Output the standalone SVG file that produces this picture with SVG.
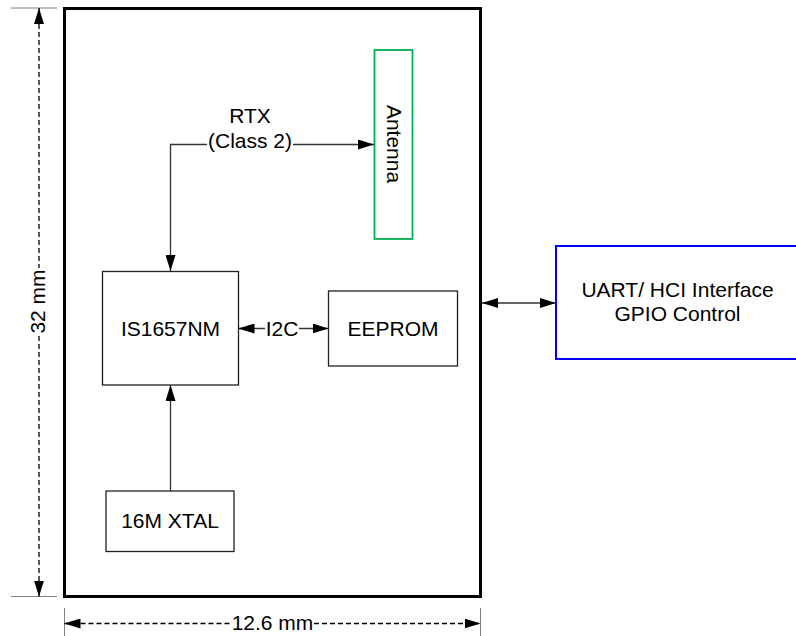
<svg xmlns="http://www.w3.org/2000/svg" width="796" height="636" viewBox="0 0 796 636">
  <style>
    .t { font-family: "Liberation Sans", Arial, sans-serif; font-size: 21px; fill: #000; }
    .box { fill: #fff; stroke: #222; stroke-width: 1.3; }
    .conn { fill: none; stroke: #333; stroke-width: 1.3; }
    .dim { fill: none; stroke: #000; stroke-width: 1.3; stroke-dasharray: 5 3; }
    .tick { fill: none; stroke: #808080; stroke-width: 1; }
  </style>
  <defs>
    <marker id="ah" viewBox="0 0 16 10" refX="16" refY="5" markerWidth="16" markerHeight="10" markerUnits="userSpaceOnUse" orient="auto-start-reverse">
      <path d="M0,0 L16,5 L0,10 z" fill="#000"/>
    </marker>
  </defs>

  <rect width="796" height="636" fill="#fff"/>

  <g id="module">
    <rect x="64.5" y="8.5" width="416" height="588" fill="#fff" stroke="#000" stroke-width="3"/>
  </g>

  <g id="uart">
    <rect x="556" y="246" width="260" height="113" fill="none" stroke="#0000ff" stroke-width="2"/>
    <text class="t" x="677.5" y="297" text-anchor="middle">UART/ HCI Interface</text>
    <text class="t" x="677.5" y="321" text-anchor="middle">GPIO Control</text>
  </g>

  <g id="antenna">
    <rect x="374.5" y="50" width="38" height="189" fill="#fff" stroke="#00b050" stroke-width="1.8"/>
    <text class="t" transform="translate(387,144) rotate(90)" text-anchor="middle">Antenna</text>
  </g>

  <g id="is1657nm">
    <rect class="box" x="102.5" y="271.5" width="136" height="113.5"/>
    <text class="t" x="170.5" y="336" text-anchor="middle">IS1657NM</text>
  </g>

  <g id="eeprom">
    <rect class="box" x="328.5" y="291" width="129" height="75"/>
    <text class="t" x="393" y="336" text-anchor="middle">EEPROM</text>
  </g>

  <g id="xtal">
    <rect class="box" x="106" y="491" width="128" height="60.5"/>
    <text class="t" x="170" y="528" text-anchor="middle">16M XTAL</text>
  </g>

  <g id="connectors">
    <path class="conn" d="M374,144.5 H293 M207,144.5 H170.5 V271" marker-start="url(#ah)" marker-end="url(#ah)"/>
    <text class="t" x="250" y="123" text-anchor="middle">RTX</text>
    <text class="t" x="250" y="148" text-anchor="middle">(Class 2)</text>

    <path class="conn" d="M238.5,328.5 H265 M299,328.5 H328.5" marker-start="url(#ah)" marker-end="url(#ah)"/>
    <text class="t" x="282" y="336" text-anchor="middle">I2C</text>

    <path class="conn" d="M170.5,491 V385" marker-end="url(#ah)"/>

    <path class="conn" d="M482,303 H556" marker-start="url(#ah)" marker-end="url(#ah)"/>
  </g>

  <g id="dimensions">
    <path class="tick" d="M11,8 H57 M11,596.5 H57"/>
    <path class="dim" d="M39,8 V268 M39,336 V596.5" marker-start="url(#ah)" marker-end="url(#ah)"/>
    <text class="t" transform="translate(45,301.5) rotate(-90)" text-anchor="middle">32 mm</text>

    <path class="tick" d="M64.5,608 V636 M480.5,608 V636"/>
    <path class="dim" d="M64.5,623.5 H231 M314,623.5 H480.5" marker-start="url(#ah)" marker-end="url(#ah)"/>
    <text class="t" x="272.5" y="630" text-anchor="middle">12.6 mm</text>
  </g>
</svg>
